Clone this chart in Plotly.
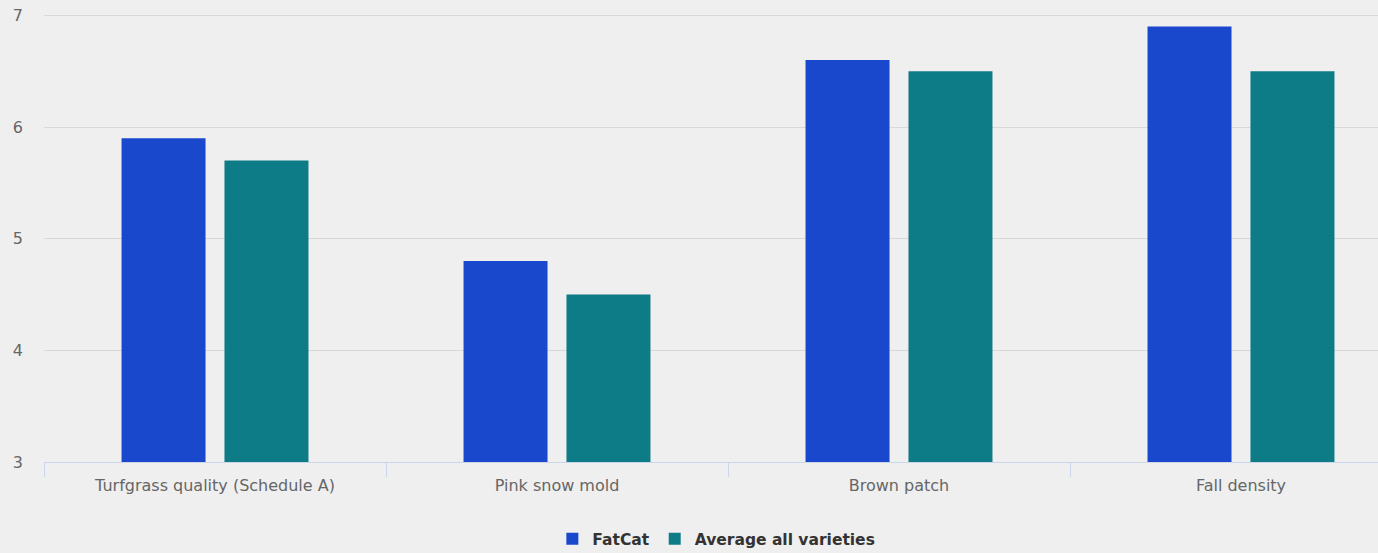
import plotly.graph_objects as go

categories = ["Turfgrass quality (Schedule A)", "Pink snow mold", "Brown patch", "Fall density"]
fatcat = [5.9, 4.8, 6.6, 6.9]
average = [5.7, 4.5, 6.5, 6.5]
series_names = ["FatCat", "Average all varieties"]
y_ticks = [3, 4, 5, 6, 7]

BG = "#efefef"
fig = go.Figure()
fig.add_trace(go.Bar(x=categories, y=fatcat, name=series_names[0],
                     marker=dict(color="#1a48cc", line=dict(width=0))))
fig.add_trace(go.Bar(x=categories, y=average, name=series_names[1],
                     marker=dict(color="#0e7c87", line=dict(width=0))))

fig.update_layout(
    width=1378, height=553,
    margin=dict(l=44, r=0, t=12, b=91, autoexpand=False),
    paper_bgcolor=BG, plot_bgcolor=BG,
    barmode="group", bargap=0.398, bargroupgap=0.184,
    font=dict(family="DejaVu Sans", color="#666666", size=14),
    showlegend=True,
    legend=dict(orientation="h", x=0.504, xanchor="center",
                yref="container", y=0.025, yanchor="middle",
                font=dict(size=15.5, color="#333333", weight="bold"),
                bgcolor="rgba(0,0,0,0)"),
    xaxis=dict(type="category", range=[-0.5, 3.4006], tickson="boundaries",
               ticks="outside", ticklen=14, tickcolor="#ccd6eb", tickwidth=1,
               showline=True, linecolor="#ccd6eb", linewidth=1,
               showgrid=False, zeroline=False, ticklabelstandoff=9,
               tickfont=dict(size=16, color="#666666")),
    yaxis=dict(range=[3, 7.03], tickvals=y_ticks, showgrid=True, gridcolor="#d8d8d8",
               gridwidth=1, zeroline=False, showline=False, ticks="",
               ticklabelstandoff=20,
               tickfont=dict(size=16, color="#666666")),
)
fig.write_html("out.html", config={"displayModeBar": False},
               post_script="document.body.style.margin='0';document.body.style.background='%s';" % BG)
